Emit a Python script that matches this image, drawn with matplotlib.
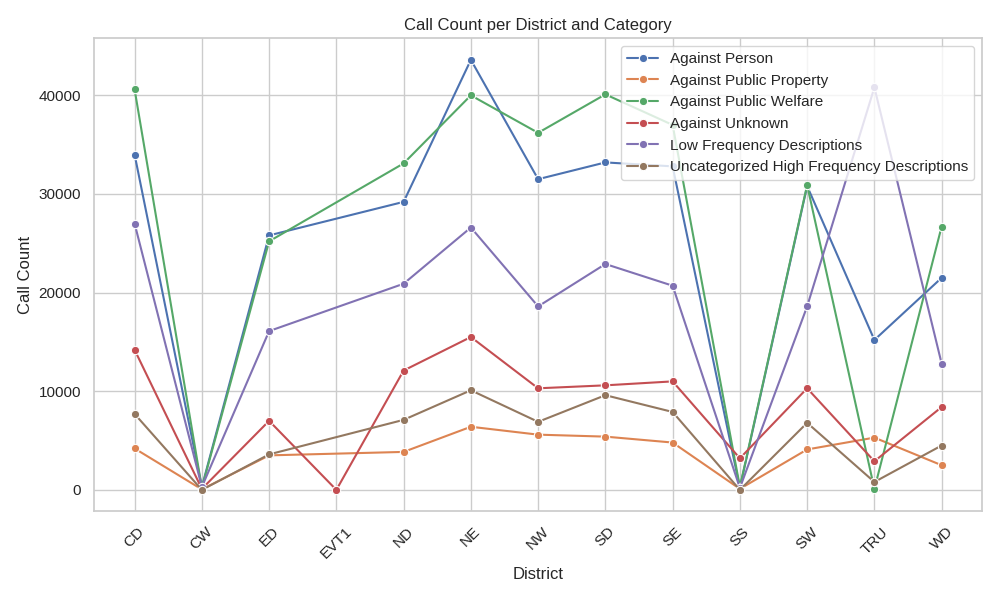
import matplotlib
matplotlib.use('Agg')
import matplotlib.pyplot as plt
import seaborn as sns
import numpy as np

sns.set_theme(style='whitegrid')
plt.rcParams['font.family'] = ['Liberation Sans', 'DejaVu Sans']

districts = ['CD', 'CW', 'ED', 'EVT1', 'ND', 'NE', 'NW', 'SD', 'SE', 'SS', 'SW', 'TRU', 'WD']
nan = np.nan
series = {
    'Against Person': [34000, 300, 25800, nan, 29200, 43600, 31500, 33200, 32800, 200, 30800, 15200, 21500],
    'Against Public Property': [4200, 50, 3500, nan, 3850, 6400, 5600, 5400, 4800, 100, 4100, 5300, 2500],
    'Against Public Welfare': [40600, 200, 25200, nan, 33100, 40000, 36200, 40100, 37000, 300, 30900, 100, 26700],
    'Against Unknown': [14200, 100, 7000, 0, 12100, 15500, 10300, 10600, 11000, 3200, 10300, 2900, 8400],
    'Low Frequency Descriptions': [27000, 300, 16100, nan, 20900, 26600, 18600, 22900, 20700, 200, 18600, 40800, 12800],
    'Uncategorized High Frequency Descriptions': [7700, 0, 3600, nan, 7100, 10100, 6900, 9600, 7900, 0, 6800, 800, 4500],
}

fig, ax = plt.subplots(figsize=(10, 6))
colors = sns.color_palette('deep')
x = np.arange(len(districts))
for (name, vals), c in zip(series.items(), colors):
    v = np.array(vals, dtype=float)
    m = ~np.isnan(v)
    ax.plot(x[m], v[m], color=c, marker='o', markersize=6, linewidth=1.5,
            markeredgecolor='white', markeredgewidth=0.8, label=name)

ax.set_xticks(x)
ax.set_xticklabels(districts, rotation=45)
ax.set_xlim(-0.6, len(districts) - 0.4)
ax.set_title('Call Count per District and Category')
ax.set_xlabel('District')
ax.set_ylabel('Call Count')
ax.legend(loc='upper right')
plt.tight_layout()
plt.savefig('out.png', dpi=100)
